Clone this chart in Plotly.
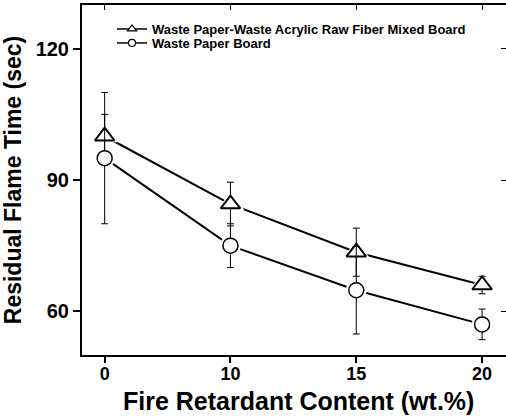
import plotly.graph_objects as go

# ---- data ----
categories = ["0", "10", "15", "20"]
mixed_board = [100, 84.5, 73.5, 66]
mixed_board_err = [5, 5, 5.5, 2]
paper_board = [95, 75, 64.8, 57]
paper_board_err = [15, 5, 10, 3.5]
y_ticks = [60, 90, 120]
names = ["Waste Paper-Waste Acrylic Raw Fiber Mixed Board", "Waste Paper Board"]
x_title = "Fire Retardant Content (wt.%)"
y_title = "Residual Flame Time (sec)"

FONT = "Liberation Sans, Arial, sans-serif"
BLACK = "black"

fig = go.Figure()

# connecting lines
for ys in (mixed_board, paper_board):
    fig.add_trace(go.Scatter(x=categories, y=ys, mode="lines",
                             line=dict(color=BLACK, width=2), showlegend=False,
                             hoverinfo="skip"))
# white halos that create gaps around markers
fig.add_trace(go.Scatter(x=categories, y=mixed_board, mode="markers",
                         marker=dict(symbol="triangle-up", size=24, color="white",
                                     line=dict(width=0)), showlegend=False, hoverinfo="skip"))
fig.add_trace(go.Scatter(x=categories, y=paper_board, mode="markers",
                         marker=dict(symbol="circle", size=21, color="white",
                                     line=dict(width=0)), showlegend=False, hoverinfo="skip"))
# markers with error bars
fig.add_trace(go.Scatter(x=categories, y=mixed_board, mode="markers",
                         error_y=dict(type="data", array=mixed_board_err, color=BLACK,
                                      thickness=1, width=3.5),
                         marker=dict(symbol="triangle-up", size=17, color="white",
                                     line=dict(color=BLACK, width=2)),
                         showlegend=False))
fig.add_trace(go.Scatter(x=categories, y=paper_board, mode="markers",
                         error_y=dict(type="data", array=paper_board_err, color=BLACK,
                                      thickness=1, width=3.5),
                         marker=dict(symbol="circle", size=15, color="white",
                                     line=dict(color=BLACK, width=1.5)),
                         showlegend=False))
# legend entries
fig.add_trace(go.Scatter(x=[None], y=[None], mode="lines+markers", name=names[0],
                         line=dict(color=BLACK, width=1.5),
                         marker=dict(symbol="triangle-up", size=8, color="white",
                                     line=dict(color=BLACK, width=1.2)),
                         legend="legend"))
fig.add_trace(go.Scatter(x=[None], y=[None], mode="lines+markers", name=names[1],
                         line=dict(color=BLACK, width=1.5),
                         marker=dict(symbol="circle", size=7, color="white",
                                     line=dict(color=BLACK, width=1.2)),
                         legend="legend2"))

legend_common = dict(font=dict(family=FONT, size=13, color=BLACK, weight="bold"),
                     bgcolor="rgba(0,0,0,0)", borderwidth=0,
                     xanchor="left", yanchor="middle", itemwidth=30)

fig.update_layout(
    width=506, height=418,
    margin=dict(l=82, r=0, t=5, b=63, autoexpand=False),
    paper_bgcolor="white", plot_bgcolor="white",
    font=dict(family=FONT, color=BLACK),
    legend=dict(x=0.0708, y=(355 - 29) / 350, **legend_common),
    legend2=dict(x=0.0708, y=(355 - 43) / 350, **legend_common),
    xaxis=dict(type="category", categoryorder="array", categoryarray=categories,
               range=[-0.18, 3.19], showline=True, linecolor=BLACK, linewidth=2,
               ticks="outside", ticklen=6, tickwidth=1.5, tickcolor=BLACK,
               showgrid=False, zeroline=False, automargin=False,
               ticklabelstandoff=-5,
               tickfont=dict(family=FONT, size=18, color=BLACK, weight="bold")),
    yaxis=dict(range=[50, 130], tickvals=y_ticks, showline=True, linecolor=BLACK,
               linewidth=2, ticks="outside", ticklen=7, tickwidth=1.5, tickcolor=BLACK,
               showgrid=False, zeroline=False, automargin=False,
               tickfont=dict(family=FONT, size=20, color=BLACK, weight="bold"),
               title=dict(text=y_title,
                          font=dict(family=FONT, size=23, color=BLACK, weight="bold"),
                          standoff=8)),
    xaxis2=dict(type="category", categoryorder="array", categoryarray=categories,
                range=[-0.18, 3.19], overlaying="x", side="top", anchor="y",
                showline=True, linecolor=BLACK, linewidth=1.5, ticks="inside",
                ticklen=5, tickwidth=1.2, tickcolor=BLACK, showticklabels=False,
                showgrid=False, zeroline=False, automargin=False),
    yaxis2=dict(range=[50, 130], tickvals=y_ticks, overlaying="y", side="right",
                anchor="x", showline=False, ticks="inside", ticklen=5, tickwidth=1.2,
                tickcolor=BLACK, showticklabels=False, showgrid=False, zeroline=False,
                automargin=False),
    annotations=[dict(text=x_title, xref="paper", yref="paper",
                      x=(298 - 82) / 424, y=(355 - 401) / 350,
                      xanchor="center", yanchor="middle", showarrow=False,
                      font=dict(family=FONT, size=25, color=BLACK, weight="bold"))],
)
# invisible trace so the mirror axes are drawn
fig.add_trace(go.Scatter(x=categories, y=paper_board, xaxis="x2", yaxis="y2",
                         mode="markers", marker=dict(opacity=0), showlegend=False,
                         hoverinfo="skip"))

fig.write_html("out.html", config=dict(displayModeBar=False),
               post_script="document.body.style.margin='0';"
                           "document.body.style.overflow='hidden';")
